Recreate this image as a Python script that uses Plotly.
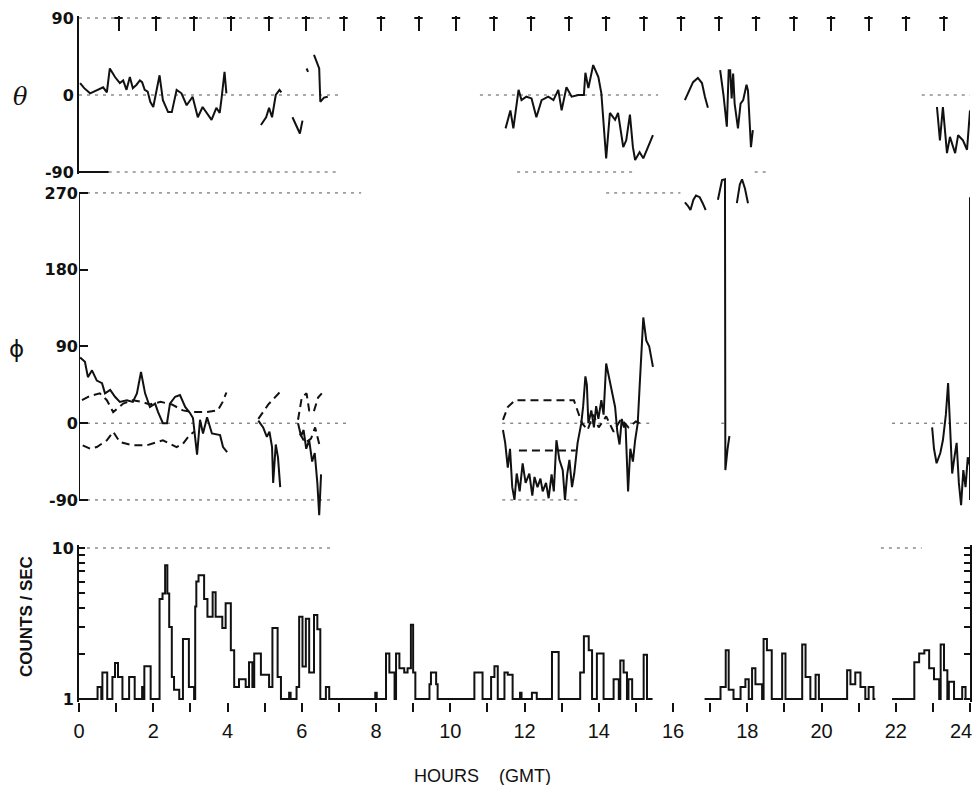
import plotly.graph_objects as go

# ---------------------------------------------------------------- data
HOUR_TICKS = list(range(25))
HOUR_LABELS = [str(h) if h % 2 == 0 else "" for h in HOUR_TICKS]

# polar angle theta (deg); None separates data passes
theta_t = [0.03, 0.14, 0.30, 0.48, 0.65, 0.75, 0.83, 0.97, 1.10, 1.19, 1.28, 1.37, 1.45, 1.55,
           1.64, 1.70, 1.77, 1.85, 1.92, 2.00, 2.08, 2.17, 2.26, 2.40, 2.50, 2.63, 2.76, 2.90,
           3.06, 3.20, 3.33, 3.43, 3.57, 3.70, 3.79, 3.84, 3.92, 3.97, None,
           4.90, 5.04, 5.12, 5.20, 5.30, 5.40, 5.45, None,
           5.75, 5.95, 6.02, None,
           6.13, 6.17, None,
           6.33, 6.40, 6.47, 6.50, 6.60, 6.70, None,
           11.49, 11.62, 11.70, 11.84, 11.92, 12.05, 12.19, 12.32, 12.46, 12.64, 12.78, 12.91,
           13.00, 13.13, 13.27, 13.45, 13.60, 13.64, 13.72, 13.85, 13.99, 14.07, 14.20, 14.30,
           14.44, 14.52, 14.66, 14.74, 14.84, 14.92, 14.98, 15.10, 15.20, 15.33, 15.46, None,
           16.32, 16.40, 16.54, 16.67, 16.78, 16.86, 16.94, None,
           17.27, 17.36, 17.45, 17.50, 17.54, 17.58, 17.62, 17.66, 17.75, 17.82, 17.89, 17.98,
           18.02, 18.10, 18.15, None,
           23.11, 23.19, 23.27, 23.38, 23.46, 23.60, 23.68, 23.81, 23.92, 23.98, 24.00]
theta_v = [14, 8, 2, 6, 9, 3, 31, 21, 14, 17, 6, 21, 8, 12,
           17, 15, 6, 4, -8, -14, 5, 23, -6, -20, -20, 6, 2, -12,
           -2, -26, -14, -20, -29, -15, -21, -4, 27, 2, None,
           -35, -26, -15, -26, 0, 6, 3, None,
           -26, -45, -30, None,
           31, 27, None,
           47, 40, 31, -8, -3, -2, None,
           -39, -18, -39, 6, -6, -2, -4, -26, -6, -2, -6, 6,
           -18, 9, -2, 0, 0, 26, 8, 35, 21, 2, -74, -21,
           -29, -21, -61, -53, -23, -61, -76, -67, -74, -61, -47, None,
           -6, 2, 15, 20, 14, -2, -15, None,
           29, 0, -37, 29, 29, -4, 25, -10, -39, -10, -6, 12,
           5, -61, -41, None,
           -14, -53, -14, -68, -49, -68, -47, -53, -64, -29, -18]

# azimuth phi (deg), measured direction
phi_t = [0.03, 0.16, 0.24, 0.35, 0.48, 0.62, 0.70, 0.84, 0.97, 1.10, 1.29, 1.45, 1.56, 1.67,
         1.78, 1.91, 2.05, 2.13, 2.26, 2.37, 2.45, 2.59, 2.72, 2.86, 2.99, 3.07, 3.18, 3.26,
         3.34, 3.45, 3.58, 3.80, 3.88, 3.99, None,
         4.83, 4.96, 5.06, 5.13, 5.20, 5.23, 5.30, 5.36, 5.42, None,
         5.90, 5.98, 6.05, 6.12, 6.20, 6.28, 6.35, 6.42, 6.47, 6.52, None,
         11.42, 11.48, 11.55, 11.61, 11.67, 11.73, 11.79, 11.87, 11.95, 12.03, 12.13, 12.21,
         12.27, 12.35, 12.43, 12.49, 12.58, 12.65, 12.73, 12.79, 12.86, 12.94, 13.03, 13.09,
         13.15, 13.21, 13.28, 13.34, 13.43, 13.53, 13.58, 13.64, 13.68, 13.72, 13.80, 13.87,
         13.93, 13.99, 14.07, 14.13, 14.20, 14.27, 14.34, 14.44, 14.50, 14.56, 14.62, 14.68,
         14.72, 14.79, 14.85, 14.92, 14.98, 15.05, 15.10, 15.20, 15.28, 15.36, 15.46, None,
         16.32, 16.40, 16.47, 16.55, 16.62, 16.72, 16.80, 16.88, None,
         17.21, 17.32, 17.40, 17.41, 17.47, 17.52, None,
         17.72, 17.80, 17.86, 17.94, 18.02, None,
         22.98, 23.03, 23.10, 23.20, 23.27, 23.35, 23.41, 23.46, 23.52, 23.58, 23.64, 23.70,
         23.76, 23.82, 23.88, 23.94, 24.00]
phi_v = [77, 72, 54, 62, 50, 47, 35, 39, 31, 25, 27, 25, 35, 60,
         35, 19, 23, 13, 0, 0, 23, 31, 33, 19, 12, 6, -37, 4,
         -12, 7, -12, -14, -28, -34, None,
         3, -5, -16, -10, -28, -70, -25, -40, -75, None,
         0, -15, -8, -30, -20, -45, -35, -70, -108, -60, None,
         -8, -23, -52, -30, -75, -90, -59, -80, -47, -70, -59, -85,
         -63, -75, -65, -80, -70, -88, -60, -80, -20, -43, -55, -90,
         -60, -43, -75, -59, -23, 0, 20, 55, 45, 0, 15, -5,
         20, 5, 27, 10, 70, 55, 42, 19, -10, -25, 5, -5,
         0, -80, -30, -45, -20, 0, 42, 124, 97, 90, 66, None,
         259, 255, 250, 262, 267, 265, 258, 250, None,
         262, 285, 286, -55, -30, -15, None,
         258, 280, 286, 275, 258, None,
         -5, -30, -47, -35, -20, 10, 47, 0, -59, -40, -23, -70,
         -96, -55, -75, -40, -50]

# phi uncertainty envelope (dashed)
phi_hi_t = [0.08, 0.30, 0.56, 0.75, 0.92, 1.05, 1.19, 1.45, 1.70, 1.90, 2.20, 2.50, 2.80,
            3.06, 3.43, 3.74, 3.87, 3.97, None,
            4.83, 5.10, 5.40, None,
            5.90, 6.00, 6.13, 6.20, 6.32, 6.44, 6.54, None,
            11.42, 11.55, 11.75, 13.33, 13.45, 13.55, 13.70, 13.85, 14.00, 14.20, 14.40,
            14.60, 14.80, 15.00, 15.10]
phi_hi_v = [27, 32, 35, 27, 13, 18, 23, 27, 25, 22, 25, 22, 15,
            13, 13, 15, 25, 36, None,
            5, 22, 36, None,
            4, 30, 35, 15, 13, 30, 35, None,
            4, 19, 27, 27, 12, 0, -8, 10, -5, 8, -10,
            5, -5, 2, 0]
phi_lo_t = [0.10, 0.30, 0.48, 0.75, 0.92, 1.10, 1.45, 1.82, 2.26, 2.63, 2.80, 2.98, 3.10, None,
            5.95, 6.09, 6.25, 6.36, 6.49, None,
            11.85, 13.38]
phi_lo_v = [-26, -30, -28, -20, -10, -22, -26, -26, -20, -28, -24, -14, -10, None,
            -12, -23, -18, -5, -28, None,
            -32, -32]

# count rate: intervals above the 1 count/s floor (start h, end h, counts/s)
cnt_start = [0.50, 0.63, 0.90, 0.97, 1.05, 1.35, 1.70, 1.76, 2.17, 2.25, 2.32, 2.38, 2.43,
             2.50, 2.56, 2.80, 2.96, 3.13, 3.16, 3.22, 3.37, 3.46, 3.60, 3.68, 3.86, 3.95,
             4.09, 4.18, 4.31, 4.49, 4.58, 4.67, 4.72, 4.90, 5.12, 5.21, 5.35, 5.66, 5.86,
             5.93, 6.02, 6.11, 6.20, 6.33, 6.42, 6.65, 7.98, 8.27, 8.36, 8.54, 8.63, 8.76,
             8.85, 8.94, 9.00, 9.44, 9.48, 9.62, 10.65, 11.10, 11.19, 11.46, 11.55, 11.88,
             12.20, 12.74, 13.50, 13.60, 13.73, 13.95, 14.40, 14.58, 14.67, 14.80, 15.21,
             17.28, 17.42, 17.50, 17.82, 17.95, 18.13, 18.22, 18.44, 18.53, 18.94, 19.48,
             19.57, 19.84, 20.69, 20.78, 20.91, 21.05, 21.27, 22.50, 22.63, 22.77, 22.90,
             23.03, 23.21, 23.30, 23.43, 23.79]
cnt_end = [0.60, 0.76, 0.97, 1.05, 1.17, 1.50, 1.74, 1.93, 2.25, 2.32, 2.38, 2.43, 2.50,
           2.56, 2.70, 2.96, 3.10, 3.16, 3.22, 3.37, 3.46, 3.60, 3.68, 3.86, 3.95, 4.09,
           4.18, 4.31, 4.49, 4.58, 4.67, 4.72, 4.90, 5.12, 5.21, 5.35, 5.44, 5.70, 5.93,
           6.02, 6.11, 6.20, 6.33, 6.42, 6.50, 6.74, 8.02, 8.36, 8.50, 8.63, 8.76, 8.85,
           8.94, 9.00, 9.06, 9.48, 9.62, 9.66, 10.87, 11.19, 11.28, 11.55, 11.68, 11.92,
           12.33, 12.92, 13.60, 13.73, 13.82, 14.13, 14.54, 14.67, 14.76, 14.90, 15.30,
           17.42, 17.50, 17.63, 17.95, 18.04, 18.22, 18.40, 18.53, 18.66, 19.03, 19.57,
           19.70, 19.93, 20.78, 20.91, 21.05, 21.18, 21.40, 22.63, 22.77, 22.90, 23.03,
           23.17, 23.30, 23.39, 23.57, 23.88]
cnt_level = [1.2, 1.5, 1.4, 1.73, 1.4, 1.4, 1.2, 1.65, 4.6, 5.0, 7.7, 5.0, 3.0,
             1.4, 1.15, 2.5, 1.2, 4.1, 6.0, 6.6, 4.6, 3.5, 5.1, 3.5, 2.95, 4.3,
             2.1, 1.2, 1.35, 1.2, 1.75, 1.2, 2.0, 1.45, 1.2, 2.95, 1.4, 1.1, 1.2,
             3.5, 1.64, 3.4, 1.5, 3.6, 2.9, 1.2, 1.1, 2.0, 1.5, 2.0, 1.6, 1.5,
             1.6, 3.1, 1.5, 1.25, 1.5, 1.25, 1.5, 1.4, 1.65, 1.5, 1.45, 1.1,
             1.1, 2.05, 1.5, 2.6, 2.1, 2.0, 1.35, 1.8, 1.5, 1.35, 1.96,
             1.2, 2.1, 1.15, 1.2, 1.35, 1.6, 1.25, 2.5, 2.1, 2.0, 2.3,
             1.4, 1.45, 1.55, 1.25, 1.5, 1.2, 1.2, 1.75, 2.0, 2.1, 1.6,
             1.35, 2.3, 1.55, 1.3, 1.2]
cnt_spans = [(0.0, 15.45), (16.85, 21.45), (21.9, 24.0)]

# dotted reference levels: value -> covered hour spans
theta_refs = {90: [(0, 6.8)], 0: [(0, 7.0), (10.8, 15.6), (22.7, 24)],
              -90: [(0.8, 7.0), (11.8, 15.0), (18.2, 18.5)]}
phi_refs = {270: [(0, 7.6), (14.2, 16.2)], 0: [(0, 7.2), (11.4, 15.4), (17.3, 17.5), (21.9, 24)],
            -90: [(0, 6.8), (11.4, 13.5)]}
cnt_refs = {10: [(0, 6.8), (21.6, 22.7)]}

# ---------------------------------------------------------------- layout geometry
W, H = 975, 785
ML, MR, MT, MB = 79, 5, 16, 83
PH = H - MT - MB
PW = W - ML - MR


def dom(top_px, bot_px):
    return [(H - MB - bot_px) / PH, (H - MB - top_px) / PH]


TH_ZERO, TH_SCALE = 95.0, 154 / 180       # theta: px of 0 deg, px per deg
PHI_ZERO, PHI_SCALE = 423.2, 307 / 360
CNT_ONE, CNT_DEC = 699.0, 151.0
th_dom = dom(16, 174)
phi_dom = dom(176, 519)
cnt_dom = dom(545, 702)
th_rng = [-(174 - TH_ZERO) / TH_SCALE, (TH_ZERO - 16) / TH_SCALE]
phi_rng = [-(519 - PHI_ZERO) / PHI_SCALE, (PHI_ZERO - 176) / PHI_SCALE]
cnt_rng = [-(702 - CNT_ONE) / CNT_DEC, (CNT_ONE - 545) / CNT_DEC]


def step_path(spans, starts, ends, levels, floor=1.0):
    xs, ys = [], []
    for a, b in spans:
        xs.append(a); ys.append(floor)
        seg = [(s, e, l) for s, e, l in zip(starts, ends, levels) if a <= s < b]
        for i, (s, e, l) in enumerate(seg):
            xs.append(s); ys.append(l)
            nxt = seg[i + 1][0] if i + 1 < len(seg) else None
            if nxt is None or abs(nxt - e) > 1e-9:
                xs.append(e); ys.append(floor)
        xs.append(b); ys.append(floor)
        xs.append(None); ys.append(None)
    return xs, ys


def ref_trace(refs, xa, ya):
    xs, ys = [], []
    for val, spans in refs.items():
        for a, b in spans:
            xs += [a, b, None]
            ys += [val, val, None]
    return go.Scatter(x=xs, y=ys, mode="lines", xaxis=xa, yaxis=ya, hoverinfo="skip",
                      line=dict(color="#555", width=1, dash="3px,5px"), showlegend=False)


INK = "#111"
fig = go.Figure()

for refs, xa, ya in [(theta_refs, "x", "y"), (phi_refs, "x2", "y2"), (cnt_refs, "x3", "y3")]:
    fig.add_trace(ref_trace(refs, xa, ya))

# short solid stub of the -90 level next to the theta axis
fig.add_trace(go.Scatter(x=[0, 0.8], y=[-90, -90], mode="lines", xaxis="x", yaxis="y",
                         hoverinfo="skip", line=dict(color=INK, width=2), showlegend=False))

fig.add_trace(go.Scatter(x=theta_t, y=theta_v, mode="lines", xaxis="x", yaxis="y",
                         line=dict(color=INK, width=2), showlegend=False))
fig.add_trace(go.Scatter(x=phi_hi_t, y=phi_hi_v, mode="lines", xaxis="x2", yaxis="y2",
                         line=dict(color=INK, width=2, dash="8px,5px"), showlegend=False))
fig.add_trace(go.Scatter(x=phi_lo_t, y=phi_lo_v, mode="lines", xaxis="x2", yaxis="y2",
                         line=dict(color=INK, width=2, dash="8px,5px"), showlegend=False))
fig.add_trace(go.Scatter(x=phi_t, y=phi_v, mode="lines", xaxis="x2", yaxis="y2",
                         line=dict(color=INK, width=2), showlegend=False))

cx, cy = step_path(cnt_spans, cnt_start, cnt_end, cnt_level)
fig.add_trace(go.Scatter(x=cx, y=cy, mode="lines", line_shape="hv", xaxis="x3", yaxis="y3",
                         line=dict(color=INK, width=2), showlegend=False))

# caps of the hourly tick marks along the top of the theta panel
top_hours = HOUR_TICKS[1:24]
cap_y = (TH_ZERO - 18) / TH_SCALE
fig.add_trace(go.Scatter(x=top_hours, y=[cap_y] * len(top_hours), mode="markers",
                         xaxis="x4", yaxis="y", cliponaxis=False, hoverinfo="skip",
                         marker=dict(symbol="line-ew", size=6, line=dict(color=INK, width=2)),
                         showlegend=False))

tick_font = dict(family="DejaVu Sans", size=16, color=INK, weight="bold")
hour_font = dict(family="Liberation Sans Narrow, Liberation Sans", size=20, color=INK)
common_x = dict(range=[0, 24], showgrid=False, zeroline=False, domain=[0, 1], automargin=False)

# the last hour label sits at the right edge: right-align it so it stays on the page
inner_labels = HOUR_LABELS[:-1] + [""]
LABEL_Y_PX = 731

fig.update_layout(
    width=W, height=H, margin=dict(l=ML, r=MR, t=MT, b=MB, autoexpand=False),
    paper_bgcolor="white", plot_bgcolor="white",
    xaxis=dict(**common_x, anchor="y", visible=False),
    xaxis2=dict(**common_x, anchor="y2", visible=False),
    xaxis3=dict(**common_x, anchor="y3", tickmode="array", tickvals=HOUR_TICKS,
                ticktext=inner_labels, ticks="outside", ticklen=9, tickwidth=2, tickcolor=INK,
                showline=False, ticklabelstandoff=2, tickfont=hour_font),
    xaxis4=dict(range=[-2 / 37.5, (PW - 2) / 37.5], overlaying="x", anchor="y",
                side="top", tickmode="array", tickvals=top_hours, ticks="inside",
                ticklen=15, tickwidth=2, tickcolor=INK, showticklabels=False,
                showgrid=False, zeroline=False, showline=False),
    yaxis=dict(domain=th_dom, range=th_rng, anchor="x", tickmode="array",
               tickvals=[-90, 0, 90], ticktext=["-90", "0", "90"], ticks="",
               showline=True, linewidth=2, linecolor=INK, showgrid=False, zeroline=False,
               tickfont=tick_font),
    yaxis2=dict(domain=phi_dom, range=phi_rng, anchor="x2", tickmode="array",
                tickvals=[-90, 0, 90, 180, 270], ticktext=["-90", "0", "90", "180", "270"],
                ticks="inside", ticklen=9, tickwidth=2, tickcolor=INK,
                showline=False, showgrid=False, zeroline=False, tickfont=tick_font),
    yaxis4=dict(range=phi_rng, overlaying="y2", anchor="x2", side="right", tickmode="array",
                tickvals=[90, 180], ticks="inside", ticklen=9, tickwidth=2, tickcolor=INK,
                showticklabels=False, showgrid=False, zeroline=False, showline=False),
    yaxis3=dict(domain=cnt_dom, range=cnt_rng, type="log", anchor="x3", tickmode="array",
                tickvals=list(range(1, 11)),
                ticktext=["1"] + [""] * 8 + ["10"], ticks="inside", ticklen=6, tickwidth=1.5,
                tickcolor=INK, showline=True, linewidth=2, linecolor=INK, mirror="ticks",
                showgrid=False, zeroline=False, tickfont=tick_font),
    shapes=[
        dict(type="line", xref="x2", yref="y2", x0=0, x1=0, y0=-90, y1=270,
             line=dict(color=INK, width=2)),
        dict(type="line", xref="x2", yref="y2", x0=24, x1=24, y0=-90, y1=265,
             line=dict(color=INK, width=2)),
    ],
    annotations=[
        dict(text=HOUR_LABELS[-1], xref="paper", yref="paper", x=(W - 1 - ML) / PW,
             y=(H - MB - LABEL_Y_PX) / PH, showarrow=False, xanchor="right",
             yanchor="middle", font=hour_font),
        dict(text="θ", xref="paper", yref="paper", x=(20 - ML) / PW,
             y=(H - MB - 97) / PH, showarrow=False, xanchor="center", yanchor="middle",
             font=dict(family="DejaVu Serif", size=24, color=INK, style="italic")),
        dict(text="ϕ", xref="paper", yref="paper", x=(16 - ML) / PW,
             y=(H - MB - 349) / PH, showarrow=False, xanchor="center", yanchor="middle",
             font=dict(family="DejaVu Sans", size=23, color=INK)),
        dict(text="COUNTS / SEC", xref="paper", yref="paper", x=(26 - ML) / PW,
             y=(H - MB - 617) / PH, showarrow=False, textangle=-90, xanchor="center",
             yanchor="middle",
             font=dict(family="Liberation Sans", size=17, color=INK, weight="bold")),
        dict(text="HOURS\u00a0\u00a0\u00a0\u00a0(GMT)", xref="paper", yref="paper",
             x=(482 - ML) / PW, y=(H - MB - 776) / PH, showarrow=False,
             xanchor="center", yanchor="middle",
             font=dict(family="Liberation Sans", size=18, color=INK)),
    ],
)

fig.write_html("out.html")
